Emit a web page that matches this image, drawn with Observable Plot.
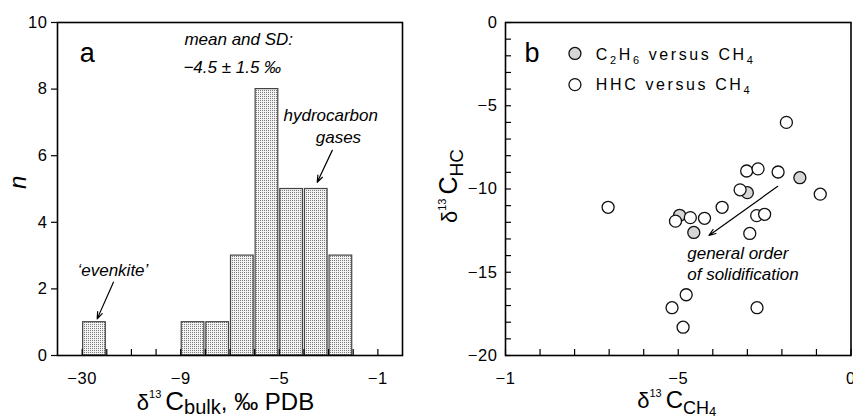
<!DOCTYPE html>
<html><head><meta charset="utf-8">
<script src="https://cdn.jsdelivr.net/npm/d3@7"></script>
<script src="https://cdn.jsdelivr.net/npm/@observablehq/plot@0.6"></script>
<style>
body{margin:0;background:#fff;}
#wrap{position:relative;width:853px;height:419px;overflow:hidden;background:#fff;}
#wrap svg{position:absolute;top:0;}
g[aria-label*="tick label"] text{letter-spacing:0.6px;}
g[aria-label="note"] text{letter-spacing:1.2px;}
g[aria-label="noteB"] text{letter-spacing:1px;}
</style></head><body><div id="wrap"></div>
<script>
// ---------- Panel a: histogram of bulk δ13C ----------
const binStart = [-30, -9, -8, -7, -6, -5, -4, -3];
const binEnd   = [-29, -8, -7, -6, -5, -4, -3, -2];
const binCount = [1, 1, 1, 3, 8, 5, 5, 3];
const aTickValues = [-30, -29, -11, -10, -9, -8, -7, -6, -5, -4, -3, -2, -1];
const aLabelValues = [-30, -9, -5, -1];
const aYTicks = [0, 2, 4, 6, 8, 10];

// ---------- Panel b: δ13C HC versus CH4 ----------
const c2h6CH4 = [-1.48, -3.00, -4.96, -4.55];
const c2h6HC  = [-9.32, -10.22, -11.58, -12.61];
const hhcCH4 = [-1.87, -3.02, -2.69, -2.11, -0.89, -3.21, -7.03, -3.73, -4.65, -4.24, -5.08, -2.73, -2.50, -2.93, -4.77, -5.18, -2.72, -4.86];
const hhcHC  = [-6.00, -8.92, -8.79, -8.98, -10.31, -10.05, -11.10, -11.10, -11.72, -11.76, -11.93, -11.60, -11.52, -12.67, -16.35, -17.13, -17.13, -18.30];
const bXTickValues = d3.range(-10, 1);
const bXLabelValues = [-10, -5, 0];
const bXLabels = ["−1", "−5", "0"];
const bYTickValues = d3.range(-20, 1);
const bYLabelValues = [0, -5, -10, -15, -20];

const FONT = "'Liberation Sans', Arial, Helvetica, sans-serif";

function note(t, x, y, opts) {
  return Plot.text([t], {x: () => x, y: () => y, text: d => d, lineAnchor: "bottom", textAnchor: "start", fill: "#000", ...opts});
}
function pointer(x1, y1, x2, y2) {
  return Plot.arrow([0], {x1: () => x1, y1: () => y1, x2: () => x2, y2: () => y2, stroke: "#000", strokeWidth: 1.2, headLength: 9, headAngle: 40});
}
function richText(svg, x, y, parts, {anchor = "start", rotate = 0, ls = null} = {}) {
  const t = d3.select(svg).append("text")
    .attr("transform", `translate(${x},${y}) rotate(${rotate})`)
    .attr("text-anchor", anchor).attr("font-family", FONT).attr("fill", "#000")
    .style("white-space", "pre");
  if (ls) t.style("letter-spacing", ls);
  for (const p of parts) {
    const s = t.append("tspan").attr("font-size", p.size).text(p.text);
    if (p.dy) s.attr("dy", p.dy);
    if (p.dx) s.attr("dx", p.dx);
  }
  return t;
}
function addPattern(svg, id, bg, dot) {
  d3.select(svg).insert("defs", ":first-child").html(
    `<pattern id="${id}" width="2" height="2" patternUnits="userSpaceOnUse"><rect width="2" height="2" fill="${bg}"/><rect width="1" height="1" fill="${dot}"/></pattern>`);
}

// ---------- build panel a ----------
const A = {width: 430, height: 419, ml: 57, mr: 28, mt: 22, mb: 64};
const aUnit = (A.width - A.ml - A.mr) / 14;
const bins = binStart.map((s, i) => ({x1: s, x2: binEnd[i], n: binCount[i]}));
const plotA = Plot.plot({
  width: A.width, height: A.height,
  marginLeft: A.ml, marginRight: A.mr, marginTop: A.mt, marginBottom: A.mb,
  style: {fontFamily: FONT, fontSize: "16px", color: "#000", background: "transparent"},
  x: {type: "linear", domain: [-31, -29, -12, 0], range: [A.ml, A.ml + 2 * aUnit, A.ml + 2 * aUnit, A.ml + 14 * aUnit], label: null},
  y: {domain: [0, 10], label: null},
  marks: [
    Plot.rectY(bins, {x1: "x1", x2: "x2", y1: 0, y2: "n", fill: "url(#dotsA)", stroke: "#444", strokeWidth: 1.2, insetLeft: 1, insetRight: 1}),
    Plot.axisX(aTickValues, {tickSize: -6, tickFormat: () => "", strokeWidth: 1.2, label: null}),
    Plot.axisX(aLabelValues, {tickSize: 0, tickPadding: 17, fontSize: 16.5, label: null}),
    Plot.axisY(aYTicks, {tickSize: 6, tickPadding: 4, fontSize: 16.5, strokeWidth: 1.2, label: null}),
    Plot.frame({stroke: "#000", strokeWidth: 1.6}),
    note("a", -30.1, 8.80, {fontSize: 27}),
    note("mean and SD:", -8.85, 9.31, {fontSize: 17, fontStyle: "italic", ariaLabel: "note"}),
    note("−4.5 ± 1.5 ‰", -8.89, 8.47, {fontSize: 17, fontStyle: "italic", ariaLabel: "note"}),
    note("hydrocarbon", -4.83, 7.03, {fontSize: 17, fontStyle: "italic", ariaLabel: "note"}),
    note("gases", -2.60, 6.37, {fontSize: 17, fontStyle: "italic", textAnchor: "middle", ariaLabel: "note"}),
    note("‘evenkite’", -30.19, 2.40, {fontSize: 17, fontStyle: "italic"}),
    pointer(-2.85, 6.16, -3.46, 5.2),
    pointer(-11.73, 2.2, -29.39, 1.1),
    Plot.text(["n"], {frameAnchor: "left", dx: -39, rotate: -90, fontSize: 24, fontStyle: "italic", fill: "#000"})
  ]
});
addPattern(plotA, "dotsA", "#f3f3f3", "#7a7a7a");
richText(plotA, A.ml + (A.width - A.ml - A.mr) / 2 - 4, 410, [
  {text: "δ", size: 22},
  {text: "13", size: 11, dy: -12},
  {text: "C", size: 26, dy: 12, dx: 4},
  {text: "bulk", size: 20, dy: 4},
  {text: ", ‰ PDB", size: 24, dy: -4}
], {anchor: "middle"});

// ---------- build panel b ----------
const B = {width: 423, height: 419, ml: 75, mr: 2.5, mt: 22, mb: 64};
const c2h6 = c2h6CH4.map((x, i) => ({x, y: c2h6HC[i]}));
const hhc = hhcCH4.map((x, i) => ({x, y: hhcHC[i]}));
const plotB = Plot.plot({
  width: B.width, height: B.height,
  marginLeft: B.ml, marginRight: B.mr, marginTop: B.mt, marginBottom: B.mb,
  style: {fontFamily: FONT, fontSize: "16px", color: "#000", background: "transparent", overflow: "visible"},
  x: {domain: [-10, 0], label: null},
  y: {domain: [-20, 0], label: null},
  marks: [
    Plot.axisX(bXTickValues, {tickSize: -6, tickFormat: () => "", strokeWidth: 1.2, label: null}),
    Plot.axisX(bXLabelValues, {tickSize: 0, tickPadding: 17, fontSize: 16.5, tickFormat: d => bXLabels[bXLabelValues.indexOf(d)], label: null}),
    Plot.axisY(bYTickValues, {tickSize: -6, tickFormat: () => "", strokeWidth: 1.2, label: null}),
    Plot.axisY(bYLabelValues, {tickSize: 0, tickPadding: 8, fontSize: 16.5, label: null}),
    Plot.frame({stroke: "#000", strokeWidth: 1.6}),
    Plot.dot(c2h6, {x: "x", y: "y", r: 6, fill: "url(#dotsB)", stroke: "#111", strokeWidth: 1.3}),
    Plot.dot(hhc, {x: "x", y: "y", r: 6, fill: "#fff", stroke: "#111", strokeWidth: 1.3}),
    Plot.dot([0], {x: () => -7.99, y: () => -1.86, r: 6, fill: "url(#dotsB)", stroke: "#111", strokeWidth: 1.3}),
    Plot.dot([0], {x: () => -7.99, y: () => -3.73, r: 6, fill: "#fff", stroke: "#111", strokeWidth: 1.3}),
    note("b", -9.45, -2.39, {fontSize: 27}),
    pointer(-2.12, -9.84, -4.11, -12.79),
    note("general order", -4.74, -14.20, {fontSize: 17, fontStyle: "italic", ariaLabel: "noteB"}),
    note("of solidification", -4.74, -15.49, {fontSize: 17, fontStyle: "italic", ariaLabel: "noteB"})
  ]
});
addPattern(plotB, "dotsB", "#efefef", "#8c8c8c");
const sx = plotB.scale("x"), sy = plotB.scale("y");
richText(plotB, sx.apply(-7.37), sy.apply(-2.27), [
  {text: "C", size: 16},
  {text: "2", size: 11, dy: 4},
  {text: "H", size: 16, dy: -4},
  {text: "6", size: 11, dy: 4},
  {text: " versus CH", size: 16, dy: -4},
  {text: "4", size: 11, dy: 4}
], {ls: "2.6px"});
richText(plotB, sx.apply(-7.37), sy.apply(-4.07), [
  {text: "HHC versus CH", size: 16},
  {text: "4", size: 11, dy: 4}
], {ls: "2.6px"});
const bMid = B.ml + (B.width - B.ml - B.mr) / 2 - 1;
richText(plotB, bMid, 408, [
  {text: "δ", size: 22},
  {text: "13", size: 11, dy: -11},
  {text: "C", size: 24, dy: 11, dx: 4},
  {text: "CH", size: 18, dy: 6},
  {text: "4", size: 13, dy: 2}
], {anchor: "middle"});
richText(plotB, 27, 186, [
  {text: "δ", size: 22},
  {text: "13", size: 11, dy: -11},
  {text: "C", size: 25, dy: 11, dx: 4},
  {text: "HC", size: 19, dy: 6}
], {anchor: "middle", rotate: -90});

const wrap = document.getElementById("wrap");
plotA.style.left = "0px";
plotB.style.left = "430px";
wrap.appendChild(plotA);
wrap.appendChild(plotB);
</script></body></html>
